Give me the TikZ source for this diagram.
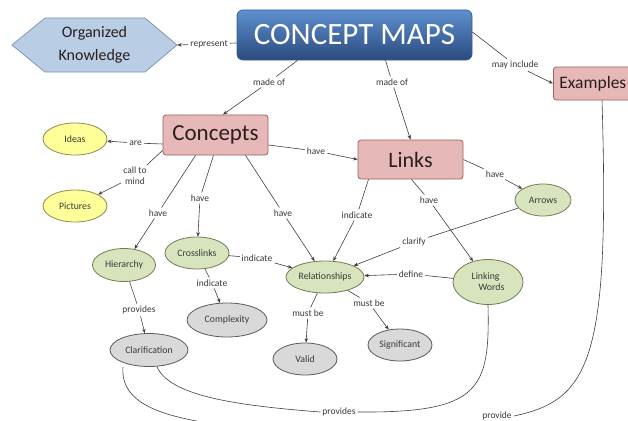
\documentclass[tikz,border=0pt]{standalone}
\usepackage{fontspec}
\setmainfont{Carlito}
\usetikzlibrary{shapes.geometric,arrows.meta}
\definecolor{linec}{HTML}{3F3F3F}
\definecolor{labc}{HTML}{3A3A3A}
\definecolor{pinkfill}{HTML}{E6B9B8}
\definecolor{pinkdraw}{HTML}{9B6060}
\definecolor{greenfill}{HTML}{D7E4BD}
\definecolor{greendraw}{HTML}{6F7D55}
\definecolor{yellowfill}{HTML}{FFFF99}
\definecolor{yellowdraw}{HTML}{8C8C50}
\definecolor{grayfill}{HTML}{D9D9D9}
\definecolor{graydraw}{HTML}{5A5A5A}
\definecolor{hexfill}{HTML}{B9CDE5}
\definecolor{hexdraw}{HTML}{8096B0}
\definecolor{cmtop}{HTML}{5E90D0}
\definecolor{cmbot}{HTML}{2A4A7D}
\definecolor{cmdraw}{HTML}{3B5E92}
\definecolor{boxtext}{HTML}{2A1E1E}
\begin{document}
\begin{tikzpicture}[x=1pt,y=-1pt,
  lnk/.style={draw=linec, line width=0.6pt},
  arr/.style={lnk, -{Stealth[length=4.5pt,width=3.6pt]}},
  lab/.style={font=\fontsize{9.5}{11}\selectfont, text=labc, inner sep=2pt, align=center},
  pinkbox/.style={draw=pinkdraw, fill=pinkfill, line width=0.8pt, rounded corners=3pt, text=boxtext, inner sep=0pt},
  ell/.style={ellipse, line width=0.8pt, inner sep=0pt, font=\fontsize{9.8}{11}\selectfont, text=labc},
  gell/.style={ell, draw=greendraw, fill=greenfill},
  yell/.style={ell, draw=yellowdraw, fill=yellowfill},
  grell/.style={ell, draw=graydraw, fill=grayfill},
]
\useasboundingbox (0,0) rectangle (628,420);
\fill[white] (0,0) rectangle (628,420);

% hexagon
\draw[draw=hexdraw, fill=hexfill, line width=0.8pt]
  (12,45) -- (45,18) -- (145,18) -- (177,45) -- (145,72) -- (45,72) -- cycle;
\node[minimum width=165pt, minimum height=54pt, inner sep=0pt, align=center,
  font=\fontsize{16}{23}\selectfont, text=boxtext] (ok) at (94.5,45) {Organized\\Knowledge};

\node[draw=cmdraw, top color=cmtop, bottom color=cmbot, rounded corners=6pt, line width=0.8pt,
  minimum width=235pt, minimum height=50pt, inner sep=0pt, text=white,
  font=\fontsize{31}{31}\selectfont] (cm) at (354.5,35) {CONCEPT MAPS};

\node[pinkbox, anchor=west, minimum height=33pt, inner xsep=6pt, font=\fontsize{17.5}{18}\selectfont] (ex) at (553,83.5) {Examples\hspace*{14pt}};
\node[pinkbox, minimum width=105pt, minimum height=40pt, font=\fontsize{23}{23}\selectfont] (co) at (215.5,135) {Concepts};
\node[pinkbox, minimum width=105pt, minimum height=39pt, font=\fontsize{22}{22}\selectfont] (li) at (410.5,159.5) {Links};

\node[yell, minimum width=64pt, minimum height=32pt] (ideas) at (75,139) {Ideas};
\node[yell, minimum width=64pt, minimum height=32pt] (pict) at (75,206) {Pictures};
\node[gell, minimum width=56pt, minimum height=32pt] (arrows) at (543,200) {Arrows};
\node[gell, minimum width=63pt, minimum height=33pt] (hier) at (124,265) {Hierarchy};
\node[gell, minimum width=64pt, minimum height=32pt] (cross) at (197,253) {Crosslinks};
\node[gell, minimum width=78pt, minimum height=32pt] (rel) at (325,277) {Relationships};
\node[gell, minimum width=70pt, minimum height=45pt, align=left] (lw) at (488,282) {Linking\\\hspace*{7pt}Words};
\node[grell, minimum width=80pt, minimum height=34pt] (compl) at (227,320) {Complexity};
\node[grell, minimum width=78pt, minimum height=33pt] (clar) at (149,350) {Clarification};
\node[grell, minimum width=64pt, minimum height=32pt] (valid) at (305,359) {Valid};
\node[grell, minimum width=64pt, minimum height=32pt] (sig) at (400,345) {Significant};

% labels
\node[lab] (lrep) at (209,44) {represent};
\node[lab] (lmo1) at (269,82) {made of};
\node[lab] (lmo2) at (392,82) {made of};
\node[lab] (lmay) at (515,65) {may include};
\node[lab] (lare) at (135.5,143) {are};
\node[lab] (lcall) at (135,176) {call to\\mind};
\node[lab] (lhave1) at (316,151) {have};
\node[lab] (lhave2) at (158,213) {have};
\node[lab] (lhave3) at (200,198) {have};
\node[lab] (lhave4) at (283,213) {have};
\node[lab] (lind1) at (357,215) {indicate};
\node[lab] (lhave5) at (429,200) {have};
\node[lab] (lhave6) at (495,174) {have};
\node[lab] (lclar) at (414,242) {clarify};
\node[lab] (lind2) at (257,258) {indicate};
\node[lab] (lind3) at (212,283) {indicate};
\node[lab] (lprov1) at (139,310) {provides};
\node[lab] (ldef) at (411,274) {define};
\node[lab] (lmb1) at (308,313) {must be};
\node[lab] (lmb2) at (369,303) {must be};
\node[lab] (lprovs) at (339,412) {provides};
\node[lab] (lprov) at (497,416) {provide};

% connectors
\draw[lnk] ([yshift=-8pt]cm.west) -- (lrep);
\draw[arr] (lrep) -- (ok.east);
\draw[lnk] ([xshift=-57pt]cm.south) -- (lmo1);
\draw[arr] (lmo1) -- ([xshift=7.5pt]co.north);
\draw[lnk] ([xshift=31pt]cm.south) -- (lmo2);
\draw[arr] (lmo2) -- (li.north);
\draw[lnk] ([yshift=3pt]cm.east) -- (lmay);
\draw[arr] (lmay) -- (ex.west);
\draw[lnk] ([yshift=-9pt]co.west) -- (lare);
\draw[arr] (lare) -- (ideas);
\draw[lnk] ([yshift=5pt]co.south west) -- (lcall);
\draw[arr] (lcall) -- (pict);
\draw[lnk] ([yshift=-10pt]co.east) -- (lhave1);
\draw[arr] (lhave1) -- (li.west);
\draw[lnk] ([xshift=-20pt]co.south) -- (lhave2);
\draw[arr] (lhave2) -- (hier);
\draw[lnk] ([xshift=-2pt]co.south) -- (lhave3);
\draw[arr] (lhave3) -- (cross);
\draw[lnk] ([xshift=30pt]co.south) -- (lhave4);
\draw[arr] (lhave4) -- (rel);
\draw[lnk] ([xshift=-42pt]li.south) -- (lind1);
\draw[arr] (lind1) -- (rel);
\draw[lnk] ([xshift=1pt]li.south) -- (lhave5);
\draw[arr] (lhave5) -- (lw);
\draw[lnk] (li.east) -- (lhave6);
\draw[arr] (lhave6) -- (arrows);
\draw[lnk] (arrows) -- (lclar);
\draw[arr] (lclar) -- (rel);
\draw[lnk] (cross) -- (lind2);
\draw[arr] (lind2) -- (rel);
\draw[lnk] (cross) -- (lind3);
\draw[arr] (lind3) -- (compl);
\draw[lnk] (hier) -- (lprov1);
\draw[arr] (lprov1) -- (clar);
\draw[lnk] (lw) -- (ldef);
\draw[arr] (ldef) -- (rel);
\draw[lnk] (rel) -- (lmb1);
\draw[arr] (lmb1) -- (valid);
\draw[lnk] (rel) -- (lmb2);
\draw[arr] (lmb2) -- (sig);

% curves
\draw[lnk] (lw.south) .. controls (490,390) and (480,413) .. (lprovs.east);
\draw[lnk] (lprovs.west) .. controls (230,405) and (170,395) .. ([xshift=8pt]clar.south);
\draw[lnk] ([xshift=49pt]ex.south west) .. controls (610,360) and (590,400) .. (lprov.east);
\draw[lnk] ([xshift=-26pt]clar.south) .. controls (120,405) and (165,418) .. (230,426)
  .. controls (350,440) and (440,432) .. (lprov.south west);
\end{tikzpicture}
\end{document}
